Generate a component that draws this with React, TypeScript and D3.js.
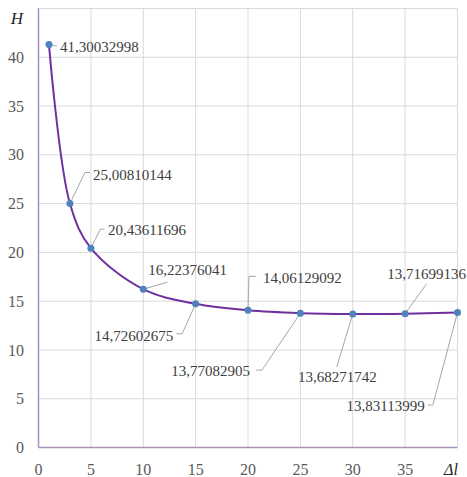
import React from "react";
import * as d3 from "d3";

const xValues = [1, 3, 5, 10, 15, 20, 25, 30, 35, 40];
const hValues = [
  41.30032998, 25.00810144, 20.43611696, 16.22376041, 14.72602675,
  14.06129092, 13.77082905, 13.68271742, 13.71699136, 13.83113999,
];
const xTicks = [0, 5, 10, 15, 20, 25, 30, 35];
const yTicks = [0, 5, 10, 15, 20, 25, 30, 35, 40];
const xGrid = [0, 5, 10, 15, 20, 25, 30, 35, 40];
const yGrid = [0, 5, 10, 15, 20, 25, 30, 35, 40, 45];

// label layout (pixel offsets relative to the point)
const labelLayout: { dx: number; dy: number; anchor: string; leader: [number, number][] }[] = [
  { dx: 11, dy: 2, anchor: "start", leader: [[0, 0], [8, 1.5]] },
  { dx: 23, dy: -29, anchor: "start", leader: [[0, 0], [15, -31], [20, -31]] },
  { dx: 17, dy: -18, anchor: "start", leader: [[0, 0], [9.5, -19], [13.5, -19]] },
  { dx: 5, dy: -19, anchor: "start", leader: [[0, 0], [24, -7]] },
  { dx: -22.5, dy: 32, anchor: "end", leader: [[0, 0], [-13.5, 30], [-19.5, 30]] },
  { dx: 15, dy: -33, anchor: "start", leader: [[0, 0], [1, -34], [8, -34]] },
  { dx: -50.5, dy: 58, anchor: "end", leader: [[0, 0], [-38.5, 57], [-44.5, 57]] },
  { dx: -15.5, dy: 63, anchor: "middle", leader: [[0, 0], [-16, 53]] },
  { dx: 21.6, dy: -40, anchor: "middle", leader: [[0, 0], [21.6, -30]] },
  { dx: -32.7, dy: 93.5, anchor: "end", leader: [[0, 0], [-24.7, 92.5], [-29.7, 92.5]] },
];

const W = 467;
const H = 477;
const x = d3.scaleLinear().domain([0, 40]).range([38.5, 457.5]);
const y = d3.scaleLinear().domain([0, 45]).range([447.5, 8.5]);

const fmt = (v: number) => v.toFixed(8).replace(".", ",");
const serif = '"Liberation Serif", "DejaVu Serif", "Times New Roman", Times, serif';
const ts: React.CSSProperties = { fontFamily: serif };

export default function App() {
  const pts: [number, number][] = xValues.map((xv, i) => [x(xv), y(hValues[i])]);
  const line = d3.line().curve(d3.curveCatmullRom.alpha(0.5))(pts) || "";
  return (
    <svg
      width={W}
      height={H}
      style={{ position: "absolute", left: 0, top: 0, background: "#fff", fontFamily: serif }}
    >
      {xGrid.map((t) => (
        <line key={"gx" + t} x1={x(t)} x2={x(t)} y1={y(45)} y2={y(0)} stroke="#d9d9d9" strokeWidth={1} />
      ))}
      {yGrid.map((t) => (
        <line key={"gy" + t} x1={x(0)} x2={x(40)} y1={y(t)} y2={y(t)} stroke="#d9d9d9" strokeWidth={1} />
      ))}
      <line x1={x(0)} x2={x(0)} y1={y(45)} y2={y(0)} stroke="#a890b8" strokeWidth={1.5} />
      <line x1={x(0)} x2={x(40)} y1={y(0)} y2={y(0)} stroke="#a890b8" strokeWidth={1.5} />
      {yTicks.map((t) => (
        <text key={"ty" + t} style={ts} x={24} y={y(t)} dy="0.35em" textAnchor="end" fontSize={16} fill="#595959">
          {t}
        </text>
      ))}
      {xTicks.map((t) => (
        <text key={"tx" + t} style={ts} x={x(t)} y={475} textAnchor="middle" fontSize={16} fill="#595959">
          {t}
        </text>
      ))}
      <text style={ts} x={17} y={24} textAnchor="middle" fontSize={17} fontStyle="italic" fill="#262626">
        H
      </text>
      <text style={ts} x={451} y={475} textAnchor="middle" fontSize={16} fontStyle="italic" fill="#262626">
        Δl
      </text>
      {pts.map((p, i) => {
        const L = labelLayout[i];
        const d = d3.line()(L.leader.map(([a, b]) => [p[0] + a, p[1] + b] as [number, number])) || "";
        return <path key={"ld" + i} d={d} fill="none" stroke="#a6a6a6" strokeWidth={1} />;
      })}
      <path d={line} fill="none" stroke="#7030a0" strokeWidth={2} />
      {pts.map((p, i) => (
        <circle key={"pt" + i} cx={p[0]} cy={p[1]} r={3.5} fill="#4f81bd" />
      ))}
      {pts.map((p, i) => {
        const L = labelLayout[i];
        return (
          <text
            key={"lb" + i}
            style={ts}
            x={p[0] + L.dx}
            y={p[1] + L.dy}
            dy="0.35em"
            textAnchor={L.anchor}
            fontSize={15}
            fill="#404040"
          >
            {fmt(hValues[i])}
          </text>
        );
      })}
    </svg>
  );
}
